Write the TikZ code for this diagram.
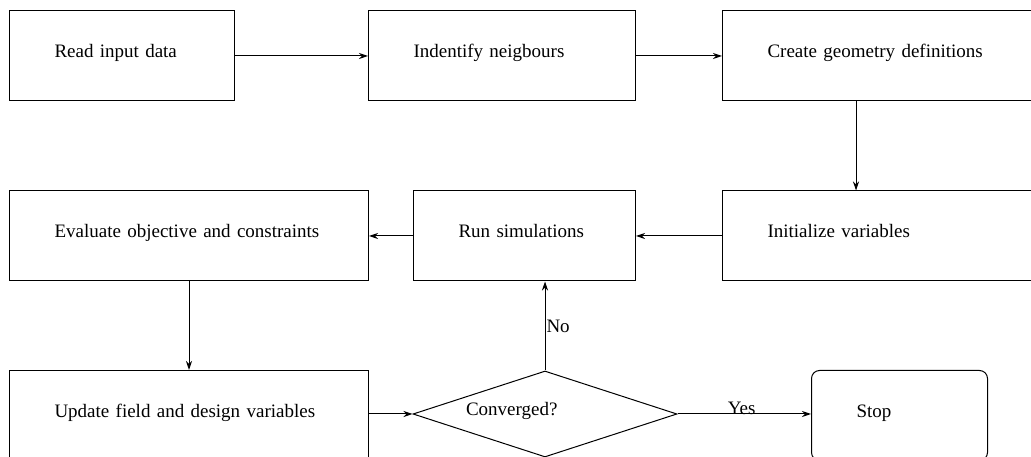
\documentclass[tikz,border=0pt]{standalone}
\usepackage{fontspec}
\setmainfont{Liberation Serif}
\usetikzlibrary{arrows.meta,shapes.geometric}
\tikzset{
  stepbox/.style={draw, rectangle, anchor=north west, minimum height=90pt,
    inner xsep=45pt, align=left, line width=1pt, text height=14pt, text depth=10pt},
  flow/.style={-{Stealth[length=9pt,width=6pt]}, line width=1pt},
}
\begin{document}
\begin{tikzpicture}[x=1pt, y=1pt, font=\fontsize{19}{23}\selectfont]
    \useasboundingbox (0,0) rectangle (1031,457);
    \node[stepbox, text width=135pt] (read) at (9,446.5) {Read input data};
    \node[stepbox, text width=177pt] (neigh) at (368,446.5) {Indentify neigbours};
    \node[stepbox, text width=270pt] (geom) at (722,446.5) {Create geometry definitions};
    \node[stepbox, text width=269pt] (eval) at (9,266.5) {Evaluate objective and constraints};
    \node[stepbox, text width=132pt] (sim) at (413,266.5) {Run simulations};
    \node[stepbox, text width=270pt] (init) at (722,266.5) {Initialize variables};
    \node[stepbox, text width=269pt] (update) at (9,87) {Update field and design variables};
    \node[draw, diamond, line width=1pt, inner sep=0pt, aspect=3.07,
        minimum width=264pt, minimum height=86pt] (conv) at (545,43) {};
    \node[anchor=west, text height=14pt, text depth=10pt] (convtext)
        at ([xshift=50pt]conv.west) {Converged?};
    \node[stepbox, text width=86pt, rounded corners=8pt] (stop) at (811,87) {Stop};
    \draw[flow] (read.east) -- (neigh.west);
    \draw[flow] (neigh.east) -- (geom.west);
    \draw[flow] ([xshift=134pt]geom.south west) -- ([xshift=134pt]init.north west);
    \draw[flow] (init.west) -- (sim.east);
    \draw[flow] (sim.west) -- (eval.east);
    \draw[flow] (eval.south) -- (update.north);
    \draw[flow] (update.east |- conv.west) -- (conv.west);
    \draw[flow] (conv.north) -- (conv.north |- sim.south)
        node[pos=0.5, right, inner sep=1pt] (no) {No};
    \draw[flow] (conv.east) -- (stop.west |- conv.east)
        node[pos=0.48, above, inner sep=0pt, yshift=-1pt] (yes) {Yes};
\end{tikzpicture}
\end{document}
